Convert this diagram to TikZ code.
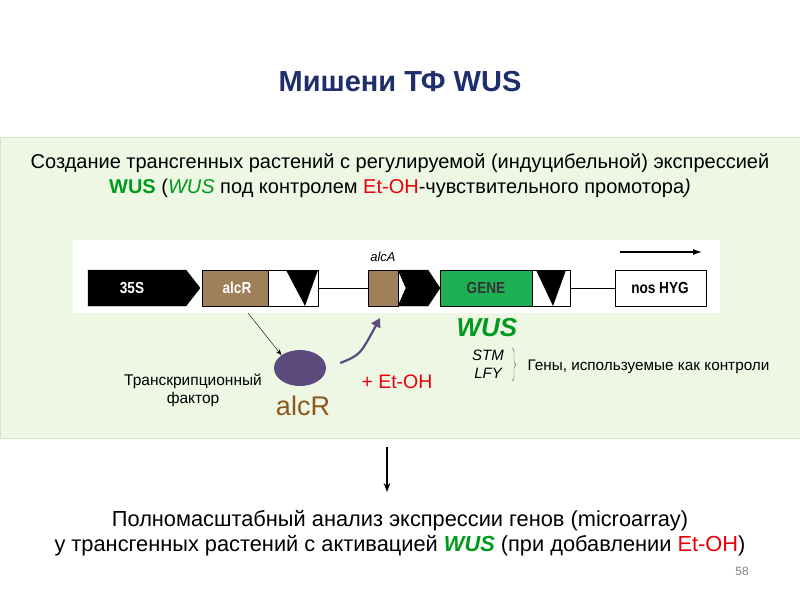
\documentclass[tikz,border=0pt]{standalone}
\usepackage{fontspec}
\setmainfont{Liberation Sans}
\usetikzlibrary{arrows.meta,decorations.pathreplacing,shapes.geometric}
\definecolor{navy}{HTML}{1F2F6B}
\definecolor{panel}{HTML}{EEF6E4}
\definecolor{panelb}{HTML}{D5E6C2}
\definecolor{wgreen}{HTML}{009A1E}
\definecolor{ered}{HTML}{E8000B}
\definecolor{brownc}{HTML}{A0805A}
\definecolor{genec}{HTML}{1FAF55}
\definecolor{purp}{HTML}{5C4A7C}
\definecolor{alcrt}{HTML}{8C5A1E}
\tikzset{
 blk/.style={fill=black,draw=black},
 brn/.style={fill=brownc,draw=black},
 wbox/.style={fill=white,draw=black},
 lbl/.style={font=\fontsize{16}{18}\selectfont\bfseries,text=white,xscale=0.85},
 body/.style={font=\fontsize{20}{25}\selectfont,align=center},
}
\begin{document}
\begin{tikzpicture}[x=1pt,y=-1pt]
\useasboundingbox (0,0) rectangle (800,600);
\fill[white] (0,0) rectangle (800,600);
\node[font=\fontsize{29}{32}\selectfont\bfseries,text=navy] (title) at (400,82) {Мишени ТФ WUS};
\draw[panelb,fill=panel] (0,137) rectangle (800,438);
\node[body] (head) at (400,176) {Создание трансгенных растений с регулируемой (индуцибельной) экспрессией\\
\textcolor{wgreen}{\textbf{WUS}} (\textcolor{wgreen}{\textit{WUS}} под контролем \textcolor{ered}{Et-OH}-чувствительного промотора\textit{)}};
% strip
\fill[white] (73,240) rectangle (720,313);
\draw (318,288) -- (368,288);
\draw (570,288) -- (615,288);
\draw[blk] (88,270) -- (186,270) -- (200,288) -- (186,306) -- (88,306) -- cycle;
\node[lbl] (s35) at (132,288) {35S};
\draw[brn] (202,270) rectangle (268,306);
\node[lbl] (alcr) at (237,288) {alcR};
\draw[wbox] (268,270) rectangle (318,306);
\fill[black] (286,270) -- (318,270) -- (305,306) -- cycle;
\draw[brn] (368,270) rectangle (398,306);
\node[font=\fontsize{13}{14}\selectfont\itshape] (alca) at (383,257) {alcA};
\draw[blk] (398,270) -- (428,270) -- (440,288) -- (428,306) -- (398,306) -- (406,288) -- cycle;
\draw[fill=genec,draw=black] (440,270) rectangle (532,306);
\node[font=\fontsize{16}{18}\selectfont\bfseries,text=black!80,xscale=0.85] (gene) at (486,288) {GENE};
\draw[wbox] (532,270) rectangle (570,306);
\fill[black] (536,270) -- (566,270) -- (553,306) -- cycle;
\draw[wbox] (615,270) rectangle (706,306);
\node[font=\fontsize{16}{18}\selectfont\bfseries,xscale=0.85] (nos) at (660,288) {nos HYG};
\coordinate (ra) at (620,252); \coordinate (rb) at (702,252);
\draw[-{Latex[length=9pt,width=6pt]},line width=1.2pt] (ra) -- (rb);
% below
\node[ellipse,fill=purp,minimum width=52pt,minimum height=36pt] (prot) at (300,368) {};
\coordinate (t1) at (248,313);
\draw[-{Stealth[length=6pt]}] (t1) -- (prot.north west);
\coordinate (t2) at (380,318);
\draw[purp,line width=2.2pt,-{Triangle[length=9pt,width=10pt]}] (prot.east)++(14,-5) coordinate (c0) .. controls (360,355) .. (t2);
\node[font=\fontsize{27}{30}\selectfont,text=alcrt] (alcrn) at (303,406) {alcR};
\node[font=\fontsize{15.5}{18}\selectfont,align=center] (tf) at (193,390) {Транскрипционный\\фактор};
\node[font=\fontsize{19.5}{22}\selectfont,text=ered] (etoh) at (397,382) {+ Et-OH};
\node[font=\fontsize{26}{28}\selectfont\bfseries\itshape,text=wgreen] (wus) at (487,328) {WUS};
\node[font=\fontsize{15}{16}\selectfont\itshape] (stm) at (488,355) {STM};
\node[font=\fontsize{15}{16}\selectfont\itshape] (lfy) at (488,373) {LFY};
\draw[draw=gray!80!black,decorate,decoration={brace,amplitude=4pt}] (512,348) -- (512,381);
\node[font=\fontsize{15.3}{17}\selectfont,anchor=west] (ctrl) at (524,367) {Гены, используемые как контроли};
\node[font=\fontsize{21.8}{25}\selectfont,align=center] (bottom) at (400,533) {Полномасштабный анализ экспрессии генов (microarray)\\
у трансгенных растений с активацией \textcolor{wgreen}{\textbf{\textit{WUS}}} (при добавлении \textcolor{ered}{Et-OH})};
\coordinate (d1) at (387,447); \coordinate (d2) at (387,492);
\draw[-{Stealth[length=9pt]},line width=1.3pt] (d1) -- (d2);
\node[font=\fontsize{12}{14}\selectfont,text=gray] (pg) at (742,571) {58};
\end{tikzpicture}
\end{document}
